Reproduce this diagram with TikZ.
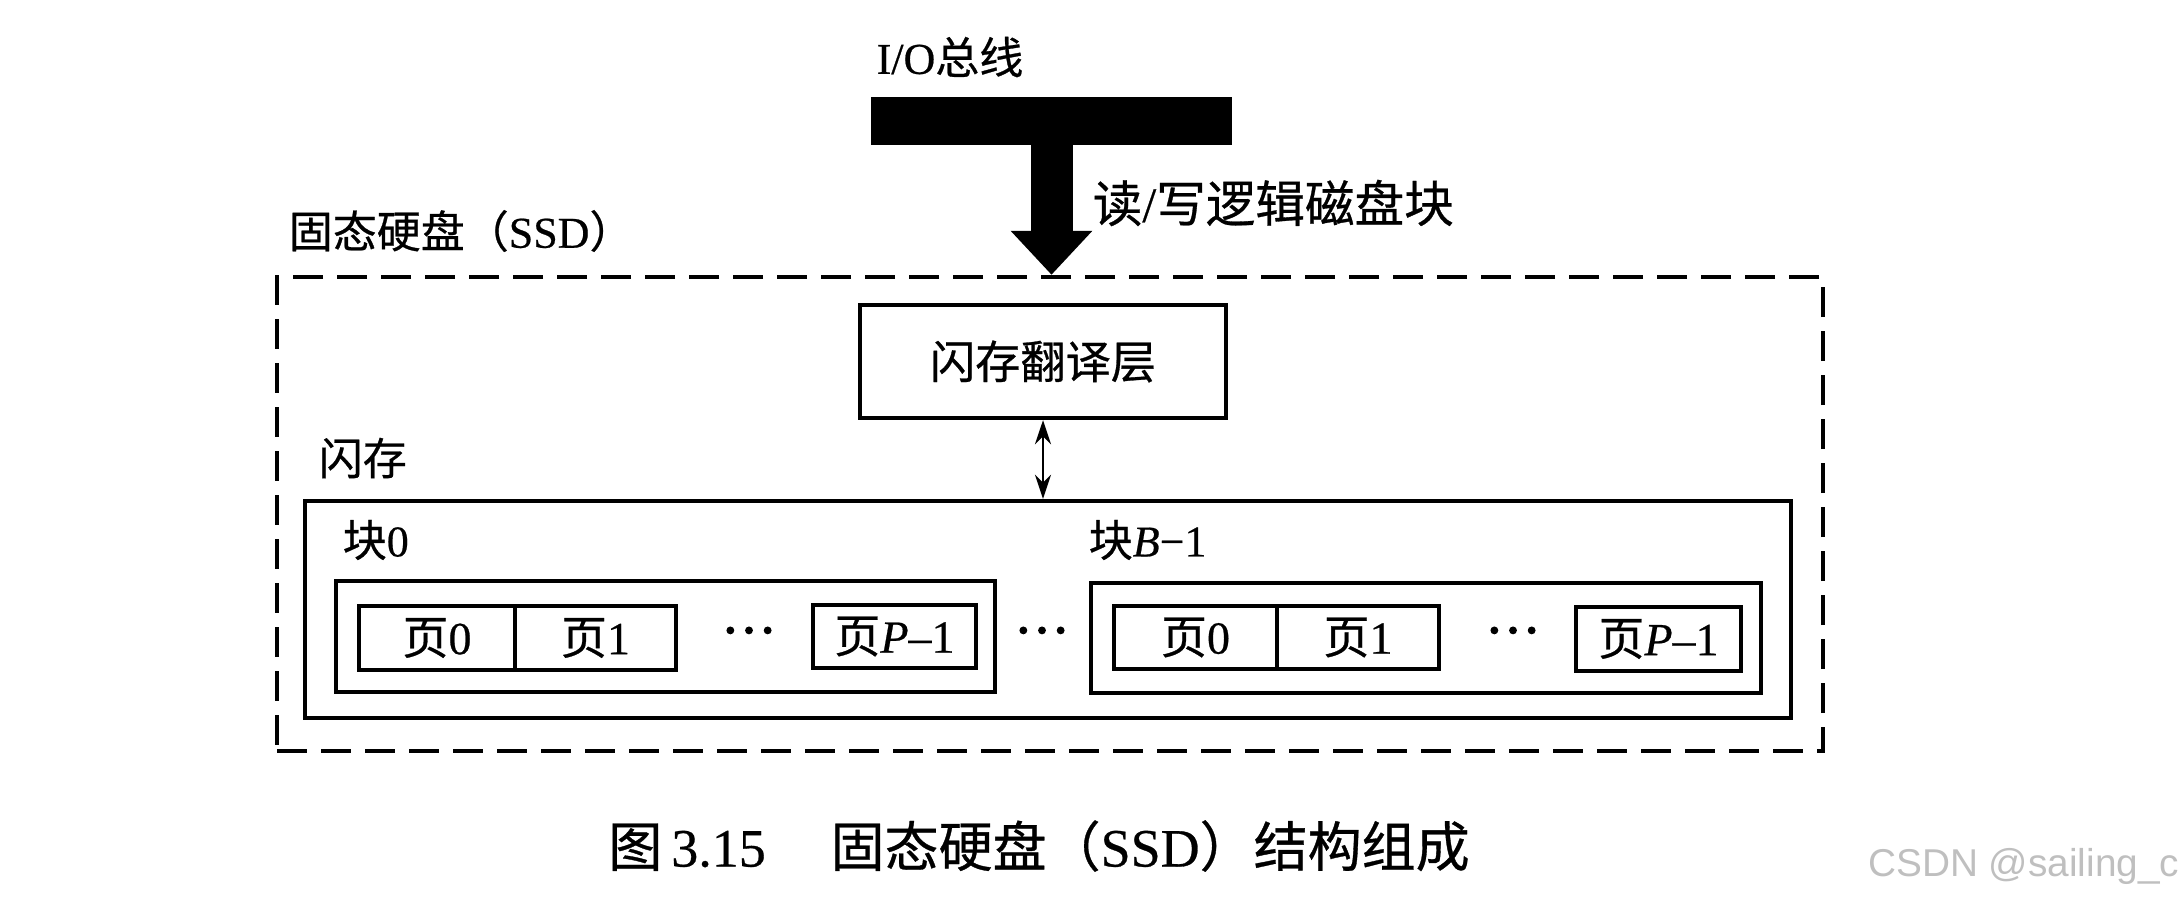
\documentclass[tikz,border=0pt]{standalone}
\usepackage{fontspec}
\setmainfont{Liberation Serif}[FakeBold=0.5]
\newfontfamily\cjk{Noto Sans CJK SC}[FakeBold=0.6]
\newfontfamily\wmfont{Liberation Sans}
\newfontfamily\dotfont{Liberation Serif}[FakeBold=2]
\usetikzlibrary{arrows.meta}
\begin{document}
\begin{tikzpicture}[x=0.25pt,y=-0.25pt,
  sz/.style 2 args={minimum width=#1*0.25pt, minimum height=#2*0.25pt},
  box/.style={draw, line width=1.1pt, inner sep=0pt},
  lab/.style={inner sep=0pt, font=\fontsize{11}{13}\selectfont},
  pg/.style={box, inner sep=0pt, font=\fontsize{11.5}{13}\selectfont},
  dotsn/.style={inner sep=0pt, font=\dotfont\fontsize{14}{16}\selectfont},
  dbl/.style={line width=0.6pt, {Stealth[length=6pt,width=4pt]}-{Stealth[length=6pt,width=4pt]}}
]
\useasboundingbox (0,0) rectangle (2184,901);

% I/O bus
\node[fill=black, inner sep=0pt, sz={361}{48}] (bus) at (1051.5,121) {};
\node[lab, font=\fontsize{11}{13}\selectfont] (iolab) at (950,57) {I/O{\cjk 总线}};
\node[lab, anchor=west, font=\fontsize{12.4}{14}\selectfont] (rwlab) at (1092,203) {{\cjk 读}/{\cjk 写逻辑磁盘块}};

% SSD boundary
\node[draw, line width=1.1pt, dash pattern=on 7.5pt off 3.5pt, inner sep=0pt, sz={1546}{474}] (ssd) at (1050,514) {};
\node[lab, anchor=west] (ssdlab) at (288,231) {{\cjk 固态硬盘（}SSD{\cjk ）}};

% big arrow
\draw[line width=10.5pt, -{Triangle[length=11pt,width=19.75pt]}] (bus.center) -- (bus.center |- ssd.north);

% FTL
\node[box, sz={366}{113}, font=\fontsize{11.3}{13}\selectfont] (ftl) at (1043,361.5) {\cjk 闪存翻译层};

% flash
\node[lab, anchor=west] (flashlab) at (318,458) {\cjk 闪存};
\node[box, sz={1486}{217}] (flash) at (1048,609.5) {};
\draw[dbl] (ftl.south) -- (ftl.south |- flash.north);

% blocks
\node[lab, anchor=west] (b0lab) at (342,540) {{\cjk 块}0};
\node[lab, anchor=west] (bBlab) at (1088,540) {{\cjk 块}\textit{B}−1};
\node[box, sz={659}{111}] (blk0) at (665.5,636.5) {};
\node[box, sz={670}{110}] (blkB) at (1426,638) {};

% pages of block 0
\node[pg, sz={156}{64}] (p00) at (437,638) {{\cjk 页}0};
\node[pg, sz={161}{64}] (p01) at (595.5,638) {{\cjk 页}1};
\node[dotsn] (d0) at (749,638) {···};
\node[pg, sz={163}{63}] (p0P) at (894.5,636.5) {{\cjk 页}\textit{P}–1};

\node[dotsn] (dmid) at (1042,638) {···};

% pages of block B-1
\node[pg, sz={163}{63}] (pB0) at (1195.5,637.5) {{\cjk 页}0};
\node[pg, sz={162}{63}] (pB1) at (1358,637.5) {{\cjk 页}1};
\node[dotsn] (dB) at (1513,638) {···};
\node[pg, sz={165}{64}] (pBP) at (1658.5,639) {{\cjk 页}\textit{P}–1};

% caption
\node[inner sep=0pt, font=\fontsize{13.5}{16}\selectfont] (cap) at (1039,846) {{\cjk 图}\,3.15\hspace{1.2em}{\cjk 固态硬盘（}SSD{\cjk ）结构组成}};

% watermark
\node[inner sep=0pt, anchor=east, text=black!25, font=\wmfont\fontsize{9.7}{11}\selectfont] (wm) at (2180,866) {CSDN @sailing\_c};
\end{tikzpicture}
\end{document}
